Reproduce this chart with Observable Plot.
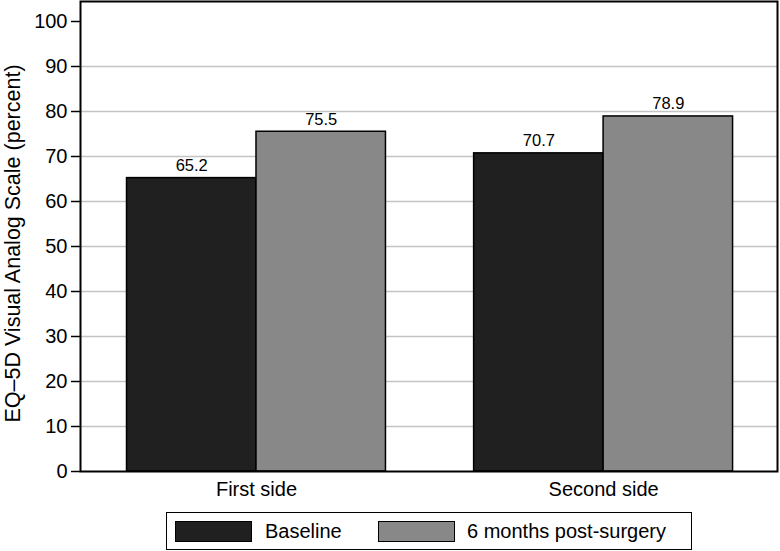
<!DOCTYPE html>
<html>
<head>
<meta charset="utf-8">
<script src="https://cdn.jsdelivr.net/npm/d3@7"></script>
<script src="https://cdn.jsdelivr.net/npm/@observablehq/plot@0.6"></script>
<style>
  html, body { margin: 0; padding: 0; background: #fff; }
  body { font-family: "Liberation Sans", Arial, Helvetica, sans-serif; width: 780px; }
  #legend {
    position: relative; box-sizing: border-box;
    margin-left: 166px; margin-top: 7px; width: 526px; height: 38px;
    border: 1.5px solid #000; font-size: 20px; color: #000;
  }
  .sw { position: absolute; top: 7.5px; width: 77px; height: 21px; box-sizing: border-box; border: 1.5px solid #000; }
  .lb { position: absolute; top: 6px; line-height: 24px; white-space: nowrap; }
</style>
</head>
<body>
<div id="chart"></div>
<div id="legend"></div>
<script>
const groups = ["First side", "Second side"];
const series = ["Baseline", "6 months post-surgery"];
const baseline = [65.2, 70.7];
const post = [75.5, 78.9];
const yTicks = [0, 10, 20, 30, 40, 50, 60, 70, 80, 90, 100];
const gridTicks = [10, 20, 30, 40, 50, 60, 70, 80, 90];
const colors = ["#202020", "#888888"];
const yLabel = "EQ\u20135D Visual Analog Scale (percent)";

const data = groups.flatMap((g, i) =>
  series.map((s, j) => ({ group: g, gi: i, series: s, sj: j, value: j === 0 ? baseline[i] : post[i] }))
);
const half = 0.373;

const chart = Plot.plot({
  width: 780,
  height: 505,
  marginLeft: 80,
  marginRight: 3,
  marginTop: 1,
  marginBottom: 34,
  style: { fontFamily: "'Liberation Sans', Arial, Helvetica, sans-serif", background: "#fff", color: "#000" },
  x: { type: "linear", domain: [-0.507, 1.501] },
  y: { domain: [0, 100], insetTop: 20 },
  color: { domain: series, range: colors },
  marks: [
    Plot.ruleY(gridTicks, { stroke: "#c4c4c4", strokeWidth: 1.6 }),
    Plot.rectY(data, {
      x1: d => d.gi + (d.sj - 1) * half,
      x2: d => d.gi + d.sj * half,
      y: "value",
      fill: "series",
      stroke: "#000",
      strokeWidth: 1.5
    }),
    Plot.text(data, {
      x: d => d.gi + (d.sj - 0.5) * half,
      y: "value",
      text: d => d.value.toFixed(1),
      dy: -7,
      lineAnchor: "bottom",
      fontSize: 16.5,
      fill: "#000"
    }),
    Plot.axisY({ ticks: yTicks, tickSize: 9, tickPadding: 4, fontSize: 20, label: null, strokeWidth: 1.5 }),
    Plot.axisX({ ticks: [0, 1], tickFormat: i => groups[i], tickSize: 0, tickPadding: 10, fontSize: 20, label: null }),
    Plot.text([yLabel], { frameAnchor: "left", rotate: -90, dx: -67, dy: 7, fontSize: 21.5, lineAnchor: "middle", textAnchor: "middle", fill: "#000" }),
    Plot.frame({ stroke: "#000", strokeWidth: 2 })
  ]
});
document.getElementById("chart").append(chart);

const legend = document.getElementById("legend");
const swLeft = [8, 211];
const lbLeft = [98, 300];
series.forEach((s, j) => {
  const sw = document.createElement("div");
  sw.className = "sw";
  sw.style.left = swLeft[j] + "px";
  sw.style.background = colors[j];
  legend.append(sw);
  const lb = document.createElement("div");
  lb.className = "lb";
  lb.style.left = lbLeft[j] + "px";
  lb.textContent = s;
  legend.append(lb);
});
</script>
</body>
</html>
